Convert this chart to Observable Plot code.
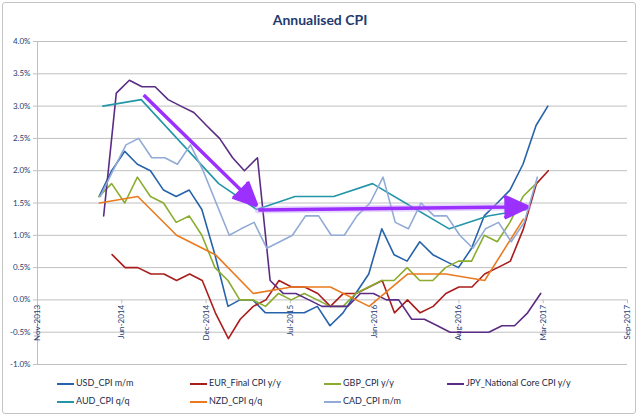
<!DOCTYPE html>
<html>
<head>
<meta charset="utf-8">
<script src="https://cdn.jsdelivr.net/npm/d3@7"></script>
<script src="https://cdn.jsdelivr.net/npm/@observablehq/plot@0.6"></script>
<style>
  body { margin: 0; background: #fff; font-family: Lato, "Open Sans", sans-serif; }
  #wrap { position: relative; width: 640px; height: 419px; overflow: hidden; }
  #frame { position: absolute; left: 2px; top: 2px; width: 634px; height: 412px;
           border: 1px solid #c4c4c4; border-radius: 3px; box-sizing: border-box; }
  #title { position: absolute; left: 0; top: 11px; width: 640px; text-align: center;
           font-weight: bold; font-size: 14px; color: #1f3b6f; }
  #chart { position: absolute; left: 0; top: 0; }
  .item { position: absolute; font-size: 9px; color: #1c2b4a; white-space: nowrap; }
  .sw { display: inline-block; width: 17px; height: 0; border-top: 2px solid; vertical-align: middle; margin-right: 2px; }
</style>
</head>
<body>
<div id="wrap">
  <div id="frame"></div>
  <div id="chart"></div>
  <div id="title">Annualised CPI</div>
  <div id="legend"></div>
</div>
<script>
// axis ticks (Excel date axis, 200-day steps)
const xTicks = ["2013-11-20", "2014-06-08", "2014-12-25", "2015-07-13", "2016-01-29", "2016-08-16", "2017-03-04", "2017-09-20"];
const yTicks = [-1, -0.5, 0, 0.5, 1, 1.5, 2, 2.5, 3, 3.5, 4];

const seriesNames = ["USD_CPI m/m", "EUR_Final CPI y/y", "GBP_CPI y/y", "JPY_National Core CPI y/y",
                     "AUD_CPI q/q", "NZD_CPI q/q", "CAD_CPI m/m"];
const seriesColors = ["#2763aa", "#aa1d1d", "#8aad2f", "#5a2c84", "#2396a8", "#ea7a1e", "#91aad6"];
// release date of first value, and months between values
const firstRelease = ["2014-04-15", "2014-05-16", "2014-04-15", "2014-04-26", "2014-04-24", "2014-04-16", "2014-04-18"];
const stepMonths = [1, 1, 1, 1, 3, 3, 1];

const usd = [1.6, 2.0, 2.3, 2.1, 2.0, 1.7, 1.6, 1.7, 1.4, 0.7, -0.1, 0.0, 0.0, -0.2, -0.2, -0.2, -0.2, -0.1,
             -0.4, -0.2, 0.1, 0.4, 1.1, 0.7, 0.6, 0.9, 0.7, 0.6, 0.5, 0.8, 1.3, 1.5, 1.7, 2.1, 2.7, 3.0];
const eur = [0.7, 0.5, 0.5, 0.4, 0.4, 0.3, 0.4, 0.3, -0.2, -0.6, -0.3, -0.1, 0.0, 0.3, 0.2, 0.2, 0.1, -0.1,
             0.1, 0.1, 0.2, 0.3, -0.2, 0.0, -0.2, -0.1, 0.1, 0.2, 0.2, 0.4, 0.5, 0.6, 1.1, 1.8, 2.0];
const gbp = [1.6, 1.8, 1.5, 1.9, 1.6, 1.5, 1.2, 1.3, 1.0, 0.5, 0.3, 0.0, 0.0, -0.1, 0.1, 0.0, 0.1, 0.0,
             -0.1, -0.1, 0.1, 0.2, 0.3, 0.3, 0.5, 0.3, 0.3, 0.5, 0.6, 0.6, 1.0, 0.9, 1.2, 1.6, 1.8];
const jpy = [1.3, 3.2, 3.4, 3.3, 3.3, 3.1, 3.0, 2.9, 2.7, 2.5, 2.2, 2.0, 2.2, 0.3, 0.1, 0.1, 0.0, -0.1,
             -0.1, -0.1, 0.1, 0.1, 0.0, 0.0, -0.3, -0.3, -0.4, -0.5, -0.5, -0.5, -0.5, -0.4, -0.4, -0.2, 0.1];
const aud = [3.0, 3.1, 2.45, 1.8, 1.4, 1.6, 1.6, 1.8, 1.45, 1.1, 1.3, 1.4];
const nzd = [1.5, 1.6, 1.0, 0.7, 0.1, 0.2, 0.2, -0.1, 0.4, 0.4, 0.3, 1.25];
const cad = [1.6, 2.0, 2.4, 2.5, 2.2, 2.2, 2.1, 2.4, 2.0, 1.5, 1.0, 1.1, 1.2, 0.8, 0.9, 1.0, 1.3, 1.3,
             1.0, 1.0, 1.3, 1.5, 1.9, 1.2, 1.1, 1.5, 1.3, 1.3, 1.0, 0.8, 1.1, 1.2, 0.9, 1.2, 1.9];
const seriesValues = [usd, eur, gbp, jpy, aud, nzd, cad];

// the two purple annotation arrows
const arrowStart = [["2014-07-30", 3.17], ["2015-04-28", 1.39]];
const arrowEnd = [["2015-04-24", 1.46], ["2017-01-26", 1.44]];

const rows = [];
seriesValues.forEach((vals, s) => {
  vals.forEach((v, i) => rows.push({
    series: seriesNames[s],
    date: d3.utcMonth.offset(new Date(firstRelease[s]), i * stepMonths[s]),
    value: v
  }));
});
const arrows = arrowStart.map((a, i) => ({
  x1: new Date(a[0]), y1: a[1], x2: new Date(arrowEnd[i][0]), y2: arrowEnd[i][1]
}));
const tickDates = xTicks.map(d => new Date(d));
const fmt = d3.utcFormat("%b-%Y");
const navy = "#1f3b6f";
const grid = "#c0c0c0";

const chart = Plot.plot({
  width: 640,
  height: 372,
  marginLeft: 37,
  marginRight: 13,
  marginTop: 41,
  marginBottom: 8,
  x: {type: "utc", domain: [tickDates[0], tickDates[tickDates.length - 1]], axis: null},
  y: {domain: [-1, 4]},
  color: {domain: seriesNames, range: seriesColors},
  style: {background: "transparent", fontFamily: "Lato, 'Open Sans', sans-serif", overflow: "visible"},
  marks: [
    Plot.gridY(yTicks, {stroke: grid, strokeOpacity: 1}),
    Plot.ruleX(tickDates.slice(0, 1), {stroke: grid}),
    Plot.axisY(yTicks, {tickSize: 4, tickPadding: 3, stroke: grid, fill: navy, fontSize: 8,
                        tickFormat: d => d.toFixed(1) + "%", label: null}),
    Plot.ruleX(tickDates, {y1: 0, y2: -0.06, stroke: grid}),
    Plot.text(tickDates, {x: d => d, y: 0, text: d => fmt(d), rotate: -90, textAnchor: "end",
                          dy: 5, fontSize: 8, fill: navy}),
    Plot.line(rows, {x: "date", y: "value", z: "series", stroke: "series", strokeWidth: 1.6}),
    Plot.arrow(arrows.slice(1), {x1: "x1", y1: "y1", x2: "x2", y2: "y2", stroke: "#c9a6ff",
                                 strokeWidth: 7, strokeOpacity: 0.45, headLength: 0}),
    Plot.arrow(arrows, {x1: "x1", y1: "y1", x2: "x2", y2: "y2", stroke: "#9b30ff", fill: "#9b30ff",
                        strokeWidth: 3.5, strokeLinejoin: "miter", strokeLinecap: "butt",
                        headLength: 11, headAngle: 50})
  ]
});
document.getElementById("chart").append(chart);

// legend below the plot
const legendPos = [[57, 383], [190, 383], [324, 383], [447, 383], [57, 401], [190, 401], [324, 401]];
const legend = document.getElementById("legend");
seriesNames.forEach((name, i) => {
  const el = document.createElement("div");
  el.className = "item";
  el.style.left = legendPos[i][0] + "px";
  el.style.top = (legendPos[i][1] - 6) + "px";
  el.innerHTML = `<span class="sw" style="border-color:${seriesColors[i]}"></span>${name}`;
  legend.append(el);
});
</script>
</body>
</html>
